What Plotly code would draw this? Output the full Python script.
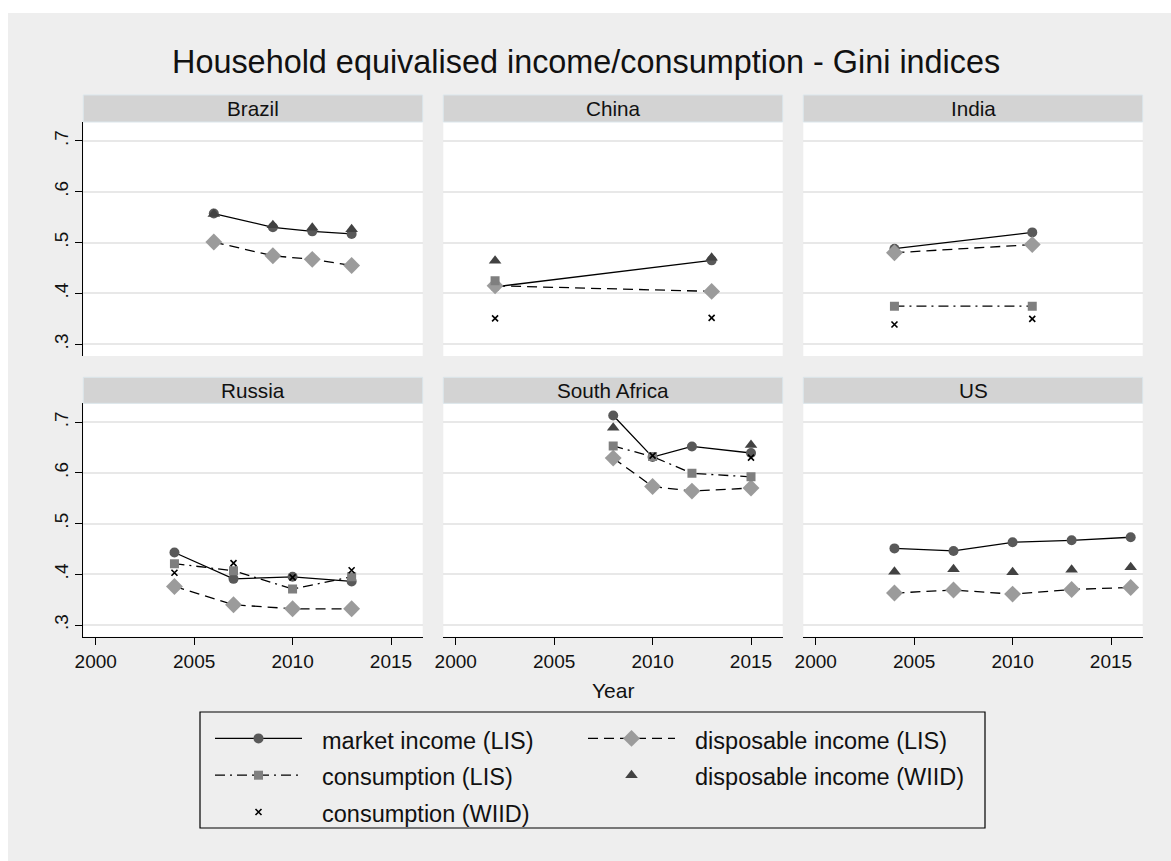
import plotly.graph_objects as go

W, H = 1171, 861

# ---------------- data ----------------
countries = ["Brazil", "China", "India", "Russia", "South Africa", "US"]
series_names = ["market income (LIS)", "disposable income (LIS)", "consumption (LIS)",
                "disposable income (WIID)", "consumption (WIID)"]
x_ticks = [2000, 2005, 2010, 2015]
y_ticks = [0.3, 0.4, 0.5, 0.6, 0.7]
y_ticktext = [".3", ".4", ".5", ".6", ".7"]

# market income (LIS)
brazil_market_years = [2006, 2009, 2011, 2013]
brazil_market = [0.557, 0.530, 0.522, 0.517]
china_market_years = [2002, 2013]
china_market = [0.413, 0.465]
india_market_years = [2004, 2011]
india_market = [0.488, 0.520]
russia_market_years = [2004, 2007, 2010, 2013]
russia_market = [0.443, 0.391, 0.395, 0.386]
safrica_market_years = [2008, 2010, 2012, 2015]
safrica_market = [0.713, 0.631, 0.652, 0.639]
us_market_years = [2004, 2007, 2010, 2013, 2016]
us_market = [0.451, 0.446, 0.463, 0.467, 0.473]

# disposable income (LIS)
brazil_displis_years = [2006, 2009, 2011, 2013]
brazil_displis = [0.501, 0.474, 0.467, 0.455]
china_displis_years = [2002, 2013]
china_displis = [0.415, 0.404]
india_displis_years = [2004, 2011]
india_displis = [0.480, 0.496]
russia_displis_years = [2004, 2007, 2010, 2013]
russia_displis = [0.376, 0.340, 0.332, 0.332]
safrica_displis_years = [2008, 2010, 2012, 2015]
safrica_displis = [0.629, 0.573, 0.564, 0.570]
us_displis_years = [2004, 2007, 2010, 2013, 2016]
us_displis = [0.363, 0.369, 0.361, 0.370, 0.374]

# consumption (LIS)
china_conslis_years = [2002]
china_conslis = [0.425]
india_conslis_years = [2004, 2011]
india_conslis = [0.375, 0.375]
russia_conslis_years = [2004, 2007, 2010, 2013]
russia_conslis = [0.421, 0.407, 0.371, 0.395]
safrica_conslis_years = [2008, 2010, 2012, 2015]
safrica_conslis = [0.653, 0.632, 0.599, 0.592]

# disposable income (WIID)
brazil_dispwiid_years = [2006, 2009, 2011, 2013]
brazil_dispwiid = [0.556, 0.534, 0.529, 0.526]
china_dispwiid_years = [2002, 2013]
china_dispwiid = [0.464, 0.470]
safrica_dispwiid_years = [2008, 2015]
safrica_dispwiid = [0.689, 0.655]
us_dispwiid_years = [2004, 2007, 2010, 2013, 2016]
us_dispwiid = [0.405, 0.410, 0.404, 0.409, 0.414]

# consumption (WIID)
china_conswiid_years = [2002, 2013]
china_conswiid = [0.351, 0.352]
india_conswiid_years = [2004, 2011]
india_conswiid = [0.339, 0.350]
russia_conswiid_years = [2004, 2007, 2010, 2013]
russia_conswiid = [0.403, 0.422, 0.394, 0.408]
safrica_conswiid_years = [2010, 2015]
safrica_conswiid = [0.634, 0.630]

panel_data = {
    "Brazil": [(brazil_market_years, brazil_market), (brazil_displis_years, brazil_displis), None,
               (brazil_dispwiid_years, brazil_dispwiid), None],
    "China": [(china_market_years, china_market), (china_displis_years, china_displis),
              (china_conslis_years, china_conslis), (china_dispwiid_years, china_dispwiid),
              (china_conswiid_years, china_conswiid)],
    "India": [(india_market_years, india_market), (india_displis_years, india_displis),
              (india_conslis_years, india_conslis), None, (india_conswiid_years, india_conswiid)],
    "Russia": [(russia_market_years, russia_market), (russia_displis_years, russia_displis),
               (russia_conslis_years, russia_conslis), None, (russia_conswiid_years, russia_conswiid)],
    "South Africa": [(safrica_market_years, safrica_market), (safrica_displis_years, safrica_displis),
                     (safrica_conslis_years, safrica_conslis), (safrica_dispwiid_years, safrica_dispwiid),
                     (safrica_conswiid_years, safrica_conswiid)],
    "US": [(us_market_years, us_market), (us_displis_years, us_displis), None,
           (us_dispwiid_years, us_dispwiid), None],
}

# ---------------- styles ----------------
FONT = "Liberation Sans, Arial, Helvetica, sans-serif"
BG = "#eeeeee"
styles = [
    dict(mode="lines+markers", line=dict(color="black", width=1.3),
         marker=dict(symbol="circle", size=10, color="#595959")),
    dict(mode="lines+markers", line=dict(color="black", width=1.3, dash="10px,6px"),
         marker=dict(symbol="diamond", size=13, color="#9b9b9b")),
    dict(mode="lines+markers", line=dict(color="black", width=1.3, dash="10px,5px,2px,5px"),
         marker=dict(symbol="square", size=9, color="#7f7f7f")),
    dict(mode="markers", marker=dict(symbol="triangle-up", size=11, color="#424242")),
    dict(mode="markers", marker=dict(symbol="x-thin", size=6, color="black",
                                     line=dict(color="black", width=1.6))),
]
legend_of_series = ["legend", "legend2", "legend", "legend2", "legend"]

cols_px = [(83.3, 422.7), (443.3, 782.7), (803.3, 1142.7)]
rows_px = [(122.0, 356.0), (403.3, 636.7)]
strips_px = [(95.0, 122.0), (377.3, 403.3)]
x_range = [1999.37, 2016.61]
y_range = [0.277, 0.737]

fig = go.Figure()
shown = set()
layout = {}
shapes = [
    # white outer margin (top and left)
    dict(type="rect", xref="paper", yref="paper", x0=0, x1=1, y0=1 - 13 / H, y1=1,
         fillcolor="white", line=dict(width=0)),
    dict(type="rect", xref="paper", yref="paper", x0=0, x1=8 / W, y0=0, y1=1,
         fillcolor="white", line=dict(width=0)),
    # legend frame
    dict(type="rect", xref="paper", yref="paper", x0=200 / W, x1=985 / W,
         y0=1 - 828 / H, y1=1 - 712 / H, fillcolor="rgba(0,0,0,0)",
         line=dict(color="black", width=1.2)),
]
annotations = []

for i, country in enumerate(countries):
    r, c = divmod(i, 3)
    xa = "x" if i == 0 else f"x{i+1}"
    ya = "y" if i == 0 else f"y{i+1}"
    xkey = "xaxis" if i == 0 else f"xaxis{i+1}"
    ykey = "yaxis" if i == 0 else f"yaxis{i+1}"
    cx0, cx1 = cols_px[c]
    ry0, ry1 = rows_px[r]
    bottom = (r == 1)
    left = (c == 0)
    layout[xkey] = dict(domain=[cx0 / W, cx1 / W], anchor=ya, range=x_range,
                        tickvals=x_ticks, showgrid=False, zeroline=False,
                        showline=bottom, linecolor="black", linewidth=1.3,
                        ticks="outside" if bottom else "", ticklen=7, tickcolor="black",
                        showticklabels=bottom, automargin=False,
                        tickfont=dict(family=FONT, size=19, color="#111"))
    layout[ykey] = dict(domain=[1 - ry1 / H, 1 - ry0 / H], anchor=xa, range=y_range,
                        tickvals=y_ticks, ticktext=y_ticktext, showgrid=True,
                        gridcolor="#e8e8e8", gridwidth=1.5, zeroline=False,
                        showline=left, linecolor="black", linewidth=1.3,
                        ticks="outside" if left else "", ticklen=7, tickcolor="black",
                        showticklabels=left, tickangle=-90, automargin=False,
                        tickfont=dict(family=FONT, size=19, color="#111"))
    sy0, sy1 = strips_px[r]
    shapes.append(dict(type="rect", xref="paper", yref="paper", x0=cx0 / W, x1=cx1 / W,
                       y0=1 - sy1 / H, y1=1 - sy0 / H, fillcolor="#d3d3d3",
                       line=dict(color="#dbe6ec", width=1)))
    annotations.append(dict(text=country, xref="paper", yref="paper",
                            x=(cx0 + cx1) / 2 / W, y=1 - (sy0 + sy1) / 2 / H,
                            showarrow=False, xanchor="center", yanchor="middle",
                            font=dict(family=FONT, size=20.7, color="#111")))
    for k, entry in enumerate(panel_data[country]):
        if entry is None:
            continue
        xs, ys = entry
        label = ("<span style='font-size:23.5px'>\u00a0\u00a0\u200a"
                 + series_names[k] + "</span>")
        fig.add_trace(go.Scatter(x=xs, y=ys, xaxis=xa, yaxis=ya, name=label,
                                 legend=legend_of_series[k],
                                 legendgroup=series_names[k], legendrank=k + 1,
                                 showlegend=(k not in shown), **styles[k]))
        shown.add(k)

annotations.append(dict(text="Household equivalised income/consumption - Gini indices",
                        xref="paper", yref="paper", x=586 / W, y=1 - 62 / H, showarrow=False,
                        xanchor="center", yanchor="middle",
                        font=dict(family=FONT, size=32.4, color="#111")))
annotations.append(dict(text="Year", xref="paper", yref="paper", x=613 / W, y=1 - 690 / H,
                        showarrow=False, xanchor="center", yanchor="middle",
                        font=dict(family=FONT, size=21, color="#111")))

legend_common = dict(orientation="v", xanchor="left", yanchor="top", itemwidth=87,
                     bgcolor="rgba(0,0,0,0)", borderwidth=0,
                     font=dict(family=FONT, size=26, color="#111"),
                     traceorder="normal", itemsizing="trace", tracegroupgap=0)

fig.update_layout(
    width=W, height=H, margin=dict(l=0, r=0, t=0, b=0),
    paper_bgcolor=BG, plot_bgcolor="white",
    shapes=shapes, annotations=annotations,
    legend=dict(x=210 / W, y=1 - 715 / H, **legend_common),
    legend2=dict(x=583 / W, y=1 - 715 / H, **legend_common),
    **layout,
)

fig.write_html("out.html", config={"displayModeBar": False},
               post_script="document.body.style.margin='0px';document.body.style.overflow='hidden';")
